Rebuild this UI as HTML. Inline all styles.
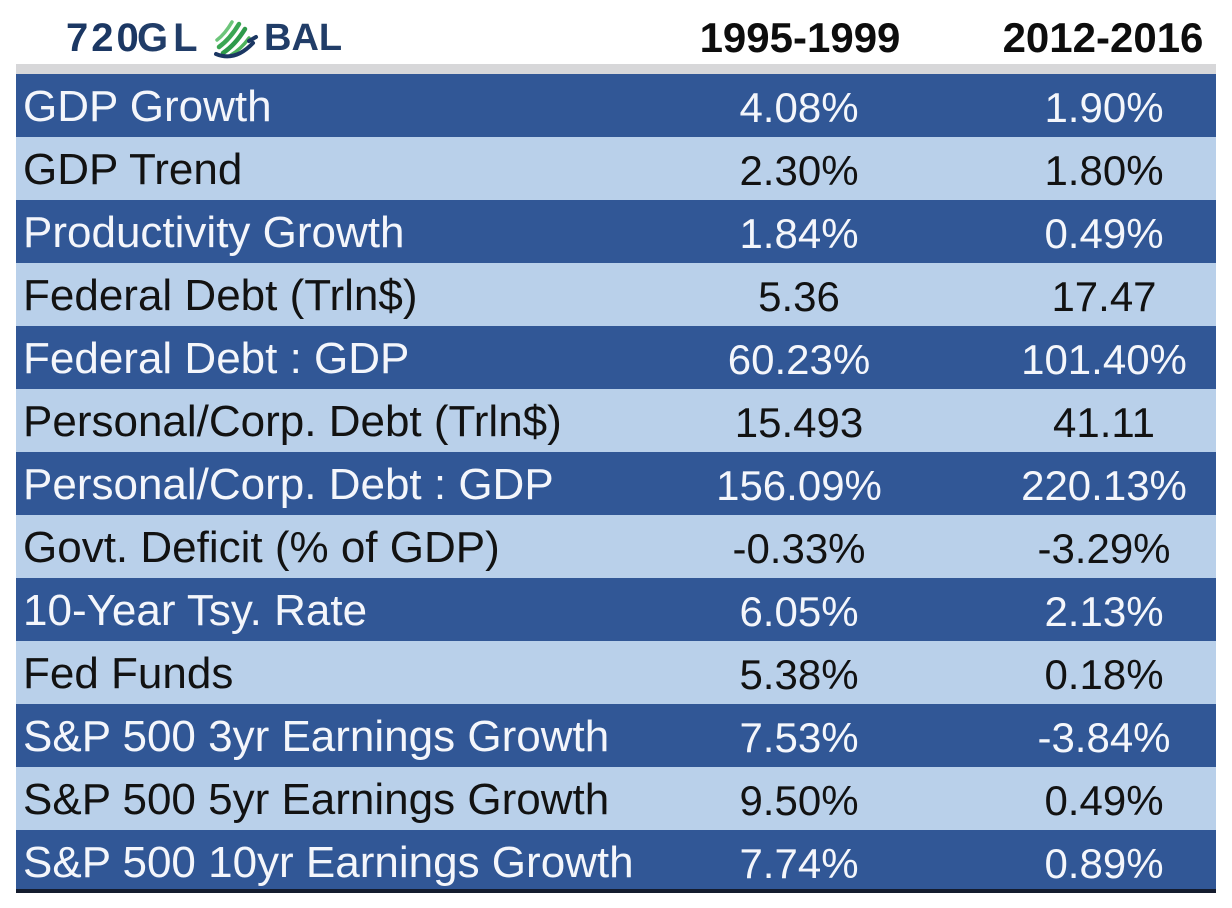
<!DOCTYPE html>
<html>
<head>
<meta charset="utf-8">
<style>
  html, body { margin:0; padding:0; }
  body { width:1232px; height:908px; background:#ffffff; position:relative; overflow:hidden;
         font-family:"Liberation Sans", Arial, sans-serif; }
  .logo { position:absolute; top:13px; height:50px; line-height:50px; font-size:40px; color:#1b3763; }
  .hdr { position:absolute; top:13px; width:300px; text-align:center; font-weight:bold; font-size:42px;
         line-height:50px; color:#0d0d0d; }
  .band { position:absolute; left:16px; width:1200px; top:64px; height:10px; background:#d7d7d9; }
  .row { position:absolute; left:16px; width:1200px; height:63px; line-height:63px; }
  .dark { background:#315796; color:#f4f6fb; }
  .light { background:#b9d0ea; color:#121212; }
  .lbl { position:absolute; left:7px; top:1px; font-size:44px; white-space:nowrap; }
  .v1, .v2 { position:absolute; top:2px; width:300px; text-align:center; font-size:42px; white-space:nowrap; }
  .v1 { left:633px; }
  .v2 { left:938px; }
  .bottom { position:absolute; left:16px; width:1200px; top:889px; height:4px; background:#141c2e; }
</style>
</head>
<body>
  <!-- Logo -->
  <div class="logo" style="left:66px; font-weight:bold; letter-spacing:3px;">720</div>
  <div class="logo" style="left:137px; font-weight:bold; letter-spacing:5px; color:#213d68;">GL</div>
  <svg style="position:absolute; left:208px; top:16px;" width="54" height="44" viewBox="0 0 54 44">
    <g fill="none" stroke-linecap="round">
      <path d="M9 24 Q17 18 24 6" stroke="#6cc57a" stroke-width="3.5"/>
      <path d="M11 31 Q22 23 31 8" stroke="#3aa653" stroke-width="4.5"/>
      <path d="M15 37 Q27 29 37 13" stroke="#2e9a4b" stroke-width="4.5"/>
      <path d="M23 39 Q33 33 41 22" stroke="#4db35c" stroke-width="3.5"/>
      <path d="M8 38 Q27 46 45 27" stroke="#1b3763" stroke-width="4"/>
      <path d="M41 25 L48 21" stroke="#1b3763" stroke-width="4"/>
    </g>
  </svg>
  <div class="logo" style="left:264px; font-weight:bold; font-size:38px; letter-spacing:0px; color:#213d68;">BAL</div>

  <!-- Headers -->
  <div class="hdr" style="left:650px;">1995-1999</div>
  <div class="hdr" style="left:953px;">2012-2016</div>

  <div class="band"></div>

  <div class="row dark"  style="top:74px;"><span class="lbl">GDP Growth</span><span class="v1">4.08%</span><span class="v2">1.90%</span></div>
  <div class="row light" style="top:137px;"><span class="lbl">GDP Trend</span><span class="v1">2.30%</span><span class="v2">1.80%</span></div>
  <div class="row dark"  style="top:200px;"><span class="lbl">Productivity Growth</span><span class="v1">1.84%</span><span class="v2">0.49%</span></div>
  <div class="row light" style="top:263px;"><span class="lbl">Federal Debt (Trln$)</span><span class="v1">5.36</span><span class="v2">17.47</span></div>
  <div class="row dark"  style="top:326px;"><span class="lbl">Federal Debt : GDP</span><span class="v1">60.23%</span><span class="v2">101.40%</span></div>
  <div class="row light" style="top:389px;"><span class="lbl">Personal/Corp. Debt (Trln$)</span><span class="v1">15.493</span><span class="v2">41.11</span></div>
  <div class="row dark"  style="top:452px;"><span class="lbl">Personal/Corp. Debt : GDP</span><span class="v1">156.09%</span><span class="v2">220.13%</span></div>
  <div class="row light" style="top:515px;"><span class="lbl">Govt. Deficit (% of GDP)</span><span class="v1">-0.33%</span><span class="v2">-3.29%</span></div>
  <div class="row dark"  style="top:578px;"><span class="lbl">10-Year Tsy. Rate</span><span class="v1">6.05%</span><span class="v2">2.13%</span></div>
  <div class="row light" style="top:641px;"><span class="lbl">Fed Funds</span><span class="v1">5.38%</span><span class="v2">0.18%</span></div>
  <div class="row dark"  style="top:704px;"><span class="lbl">S&amp;P 500 3yr Earnings Growth</span><span class="v1">7.53%</span><span class="v2">-3.84%</span></div>
  <div class="row light" style="top:767px;"><span class="lbl">S&amp;P 500 5yr Earnings Growth</span><span class="v1">9.50%</span><span class="v2">0.49%</span></div>
  <div class="row dark"  style="top:830px;"><span class="lbl">S&amp;P 500 10yr Earnings Growth</span><span class="v1">7.74%</span><span class="v2">0.89%</span></div>

  <div class="bottom"></div>
</body>
</html>
